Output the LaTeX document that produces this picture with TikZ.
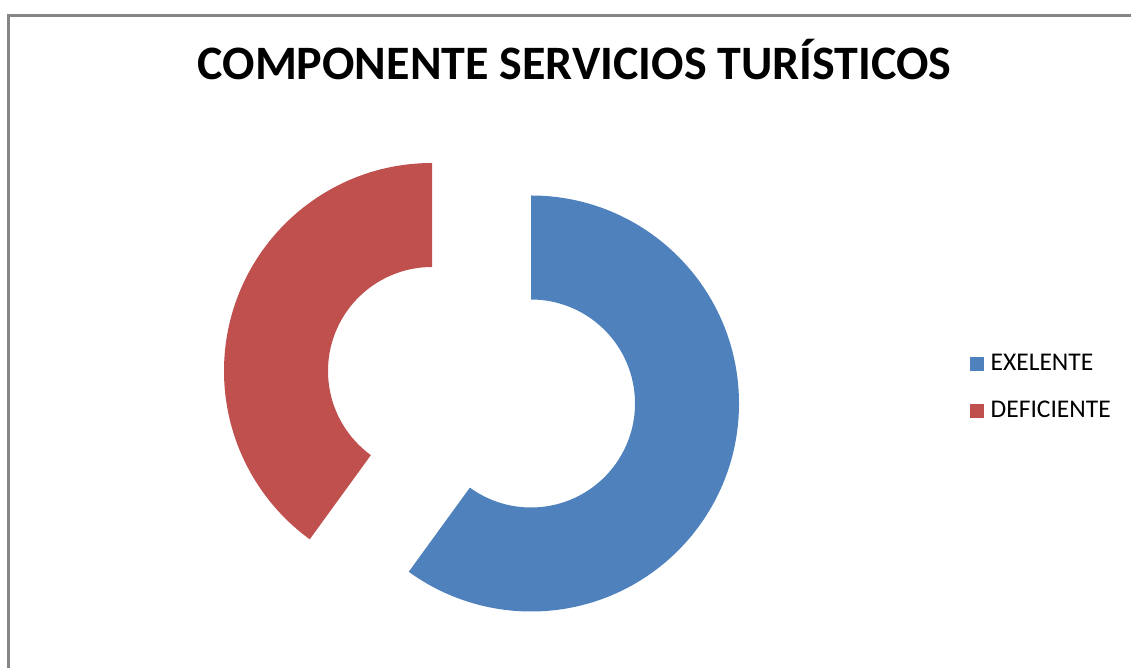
\documentclass[tikz,border=0pt]{standalone}
\usepackage{fontspec}
\setmainfont{Carlito}
\usetikzlibrary{calc}
\definecolor{exblue}{HTML}{4F81BD}
\definecolor{defred}{HTML}{C0504D}
\definecolor{framegray}{HTML}{868686}
\begin{document}
\begin{tikzpicture}[x=1pt,y=1pt,
  frameline/.style={draw=framegray,line width=3pt},
  legendsq/.style={minimum size=14pt,inner sep=0pt},
  legendtxt/.style={anchor=base west,inner sep=0pt,font=\fontsize{25.5}{30}\selectfont}]
\useasboundingbox (0,0) rectangle (1131,668);
% frame
\draw[frameline] (8,0) -- (8,652) -- (1131,652);
% title
\node[anchor=base,inner sep=0pt,font=\bfseries\fontsize{48}{54}\selectfont] (title) at (574.5,588) {COMPONENTE SERVICIOS TURÍSTICOS};
% doughnut slices
\coordinate (bc) at (531,264.5);
\coordinate (rc) at (432,297);
\fill[exblue] ($(bc)+(90:208)$) arc[start angle=90,end angle=-126,radius=208]
  -- ($(bc)+(-126:104)$) arc[start angle=-126,end angle=90,radius=104] -- cycle;
\fill[defred] ($(rc)+(90:208)$) arc[start angle=90,end angle=234,radius=208]
  -- ($(rc)+(234:104)$) arc[start angle=234,end angle=90,radius=104] -- cycle;
% legend
\node[legendsq,fill=exblue] (sq1) at (976.5,304) {};
\node[legendtxt] (l1) at (990.5,297) {EXELENTE};
\node[legendsq,fill=defred] (sq2) at (976.5,257) {};
\node[legendtxt] (l2) at (990.5,250) {DEFICIENTE};
\end{tikzpicture}
\end{document}
